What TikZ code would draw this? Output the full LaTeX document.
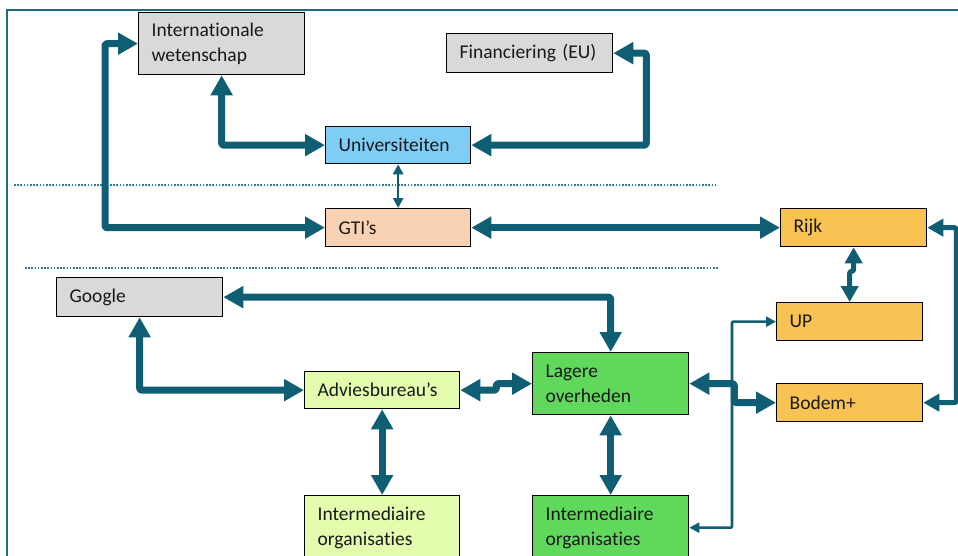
\documentclass[tikz,border=0pt]{standalone}
\usepackage{fontspec}
\setmainfont[Ligatures={NoCommon,NoContextual}]{Carlito}
\usetikzlibrary{arrows.meta,calc}
\definecolor{arr}{HTML}{0F5E73}
\definecolor{frm}{HTML}{1C6B80}
\definecolor{dotc}{HTML}{2D7C92}
\definecolor{grayb}{HTML}{D9D9D9}
\definecolor{blueb}{HTML}{7FCDF4}
\definecolor{peachb}{HTML}{F9D2B4}
\definecolor{orangeb}{HTML}{F8C352}
\definecolor{lgreenb}{HTML}{E3FCAE}
\definecolor{greenb}{HTML}{5FD85B}
\tikzset{
  box/.style={draw=black, line width=1.3pt, anchor=north west, inner xsep=13pt, inner ysep=0pt,
    align=left, font=\fontsize{19.5pt}{24.5pt}\selectfont, text=black!90},
  big/.style={draw=arr, line width=7pt, line join=round, rounded corners=2pt,
    {Triangle[length=20pt,width=21pt]}-{Triangle[length=20pt,width=21pt]}},
  mid/.style={draw=arr, line width=5pt, line join=round, rounded corners=2pt,
    {Triangle[length=16pt,width=17pt]}-{Triangle[length=16pt,width=17pt]}},
  thin/.style={draw=arr, line width=2.6pt, line join=round, rounded corners=1pt,
    {Triangle[length=10pt,width=10pt]}-{Triangle[length=10pt,width=10pt]}},
  sep/.style={draw=dotc, line width=2.2pt, dash pattern=on 1.6pt off 1.6pt},
  frame/.style={draw=frm, line width=2pt}
}
\begin{document}
\begin{tikzpicture}[x=1pt,y=-1pt]
\useasboundingbox (0,0) rectangle (958,555);
\clip (0,0) rectangle (958,555);
\fill[white] (0,0) rectangle (958,555);
\draw[frame] (7,560) -- (7,10) -- (960,10);
% separators
\draw[sep] (14,185) -- (718,185);
\draw[sep] (25,268) -- (718,268);
% nodes
\node[box, fill=grayb, text width=140pt, minimum height=62pt] (iw) at (138,12) {Internationale\\wetenschap};
\node[box, fill=grayb, text width=140pt, minimum height=39pt] (fin) at (446,33) {Financiering (EU)};
\node[box, fill=blueb, text width=119pt, minimum height=37pt] (uni) at (325,126) {Universiteiten};
\node[box, fill=peachb, text width=119pt, minimum height=38pt] (gti) at (325,208) {GTI’s};
\node[box, fill=orangeb, text width=120pt, minimum height=38pt] (rijk) at (780,208) {Rijk};
\node[box, fill=grayb, text width=140pt, minimum height=39pt] (google) at (56,277) {Google};
\node[box, fill=lgreenb, text width=129pt, minimum height=37pt] (adv) at (304,371) {Adviesbureau’s};
\node[box, fill=lgreenb, text width=129pt, minimum height=64pt] (intl) at (304,495) {Intermediaire\\organisaties};
\node[box, fill=greenb, text width=130pt, minimum height=62pt] (lag) at (532,352) {Lagere\\overheden};
\node[box, fill=greenb, text width=130pt, minimum height=64pt] (intr) at (532,495) {Intermediaire\\organisaties};
\node[box, fill=orangeb, text width=120pt, minimum height=38pt] (up) at (776,302) {UP};
\node[box, fill=orangeb, text width=120pt, minimum height=38pt] (bod) at (776,383) {Bodem+};
% connectors
\draw[big] (iw.west) -- ++(-33,0) |- (gti.west);
\draw[big] (iw.south) |- (uni.west);
\draw[big] (fin.east) -- ++(33,0) |- (uni.east);
\draw[thin] (uni.south) -- (gti.north);
\draw[big] (gti.east) -- (rijk.west);
\draw[mid] (rijk.south) -- ++(0,24) -| (up.north);
\draw[mid] (rijk.east) -- ++(29,0) |- (bod.east);
\draw[big] (google.east) -| (lag.north);
\draw[big] (google.south) |- (adv.west);
\draw[big] (adv.east) -- ++(36,0) |- (lag.west);
\draw[big] (adv.south) -- (intl.north);
\draw[big] (lag.south) -- (intr.north);
\draw[big] (lag.east) -- ++(45,0) |- (bod.west);
\draw[thin] (up.west) -- ++(-44,0) |- (intr.east);
\end{tikzpicture}
\end{document}
